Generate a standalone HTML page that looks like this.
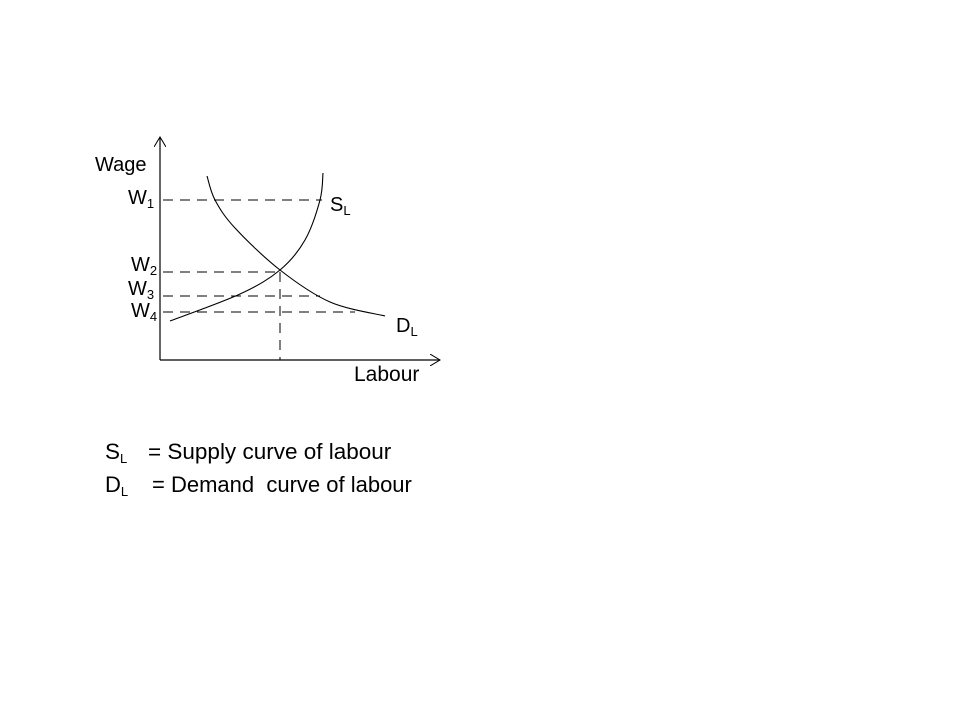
<!DOCTYPE html>
<html><head><meta charset="utf-8"><style>
body{margin:0;background:#fff;}
svg{display:block;font-family:"Liberation Sans",Calibri,sans-serif;}
</style></head><body>
<svg id="c" width="960" height="720">
<defs><marker id="ar" markerWidth="12" markerHeight="12" refX="10" refY="6" orient="auto" markerUnits="userSpaceOnUse"><path d="M0,0 L10,6 L0,12" fill="none" stroke="#000" stroke-width="1"/></marker></defs>
<line x1="160" y1="360" x2="160" y2="137" stroke="#000" stroke-width="1.2" marker-end="url(#ar)"/>
<line x1="160" y1="360" x2="440" y2="360" stroke="#000" stroke-width="1.2" marker-end="url(#ar)"/>
<text x="95" y="171" font-size="20">Wage</text>
<text x="354" y="381" font-size="21">Labour</text>
<g id="g"></g>
<text x="330" y="211" font-size="20">S<tspan font-size="13" dy="4">L</tspan></text>
<text x="396" y="332" font-size="20">D<tspan font-size="13" dy="4">L</tspan></text>
<text x="105" y="459" font-size="22.5">S<tspan font-size="13" dy="4">L</tspan><tspan dy="-4" x="148">= Supply curve of labour</tspan></text>
<text x="105" y="492" font-size="22">D<tspan font-size="13" dy="4">L</tspan><tspan dy="-4" x="152">= Demand&#160; curve of labour</tspan></text>
</svg>
<script>
const wageLabels=["1","2","3","4"];
const wageValues=[160,88,64,48];
const wageDashEnd=[162,120,160,195];
const equilibriumQ=120;
const supplyQ=[10,80,120,145,160,163];
const supplyW=[39,66,90,120,160,187];
const demandQ=[47,55,75,120,170,225];
const demandW=[184,160,132,90,58,44];
const X=v=>160+v, Y=v=>360-v;
const g=document.getElementById('g');
const NS='http://www.w3.org/2000/svg';
function smooth(qs,ws){let p=qs.map((q,i)=>[X(q),Y(ws[i])]);let d='M'+p[0];for(let i=0;i<p.length-1;i++){const p0=p[i-1]||p[i],p1=p[i],p2=p[i+1],p3=p[i+2]||p2;const c1=[p1[0]+(p2[0]-p0[0])/6,p1[1]+(p2[1]-p0[1])/6],c2=[p2[0]-(p3[0]-p1[0])/6,p2[1]-(p3[1]-p1[1])/6];d+=' C'+c1+' '+c2+' '+p2;}return d;}
wageValues.forEach((w,i)=>{
const l=document.createElementNS(NS,'line');
l.setAttribute('x1',X(3));l.setAttribute('x2',X(wageDashEnd[i]));l.setAttribute('y1',Y(w));l.setAttribute('y2',Y(w));
l.setAttribute('stroke','#000');l.setAttribute('stroke-dasharray','10,7');


g.appendChild(l);
const t=document.createElementNS(NS,'text');
t.setAttribute('x',i==0?128:131-(i==2?3:0));t.setAttribute('y',Y(w)+(i==0?4:(i==1?-1:(i==2?-1:5))));t.setAttribute('font-size','20');
t.innerHTML='W<tspan font-size="13" dy="4">'+wageLabels[i]+'</tspan>';


g.appendChild(t);
});
const v=document.createElementNS(NS,'line');
v.setAttribute('x1',X(equilibriumQ));v.setAttribute('x2',X(equilibriumQ));v.setAttribute('y1',Y(wageValues[1]));v.setAttribute('y2',Y(0));
v.setAttribute('stroke','#000');v.setAttribute('stroke-dasharray','10,7');


g.appendChild(v);
[[supplyQ,supplyW,'supply-curve'],[demandQ,demandW,'demand-curve']].forEach(s=>{
const p=document.createElementNS(NS,'path');
p.setAttribute('d',smooth(s[0],s[1]));p.setAttribute('fill','none');p.setAttribute('stroke','#000');p.setAttribute('stroke-width','1.1');


g.appendChild(p);
});
</script>
</body></html>
